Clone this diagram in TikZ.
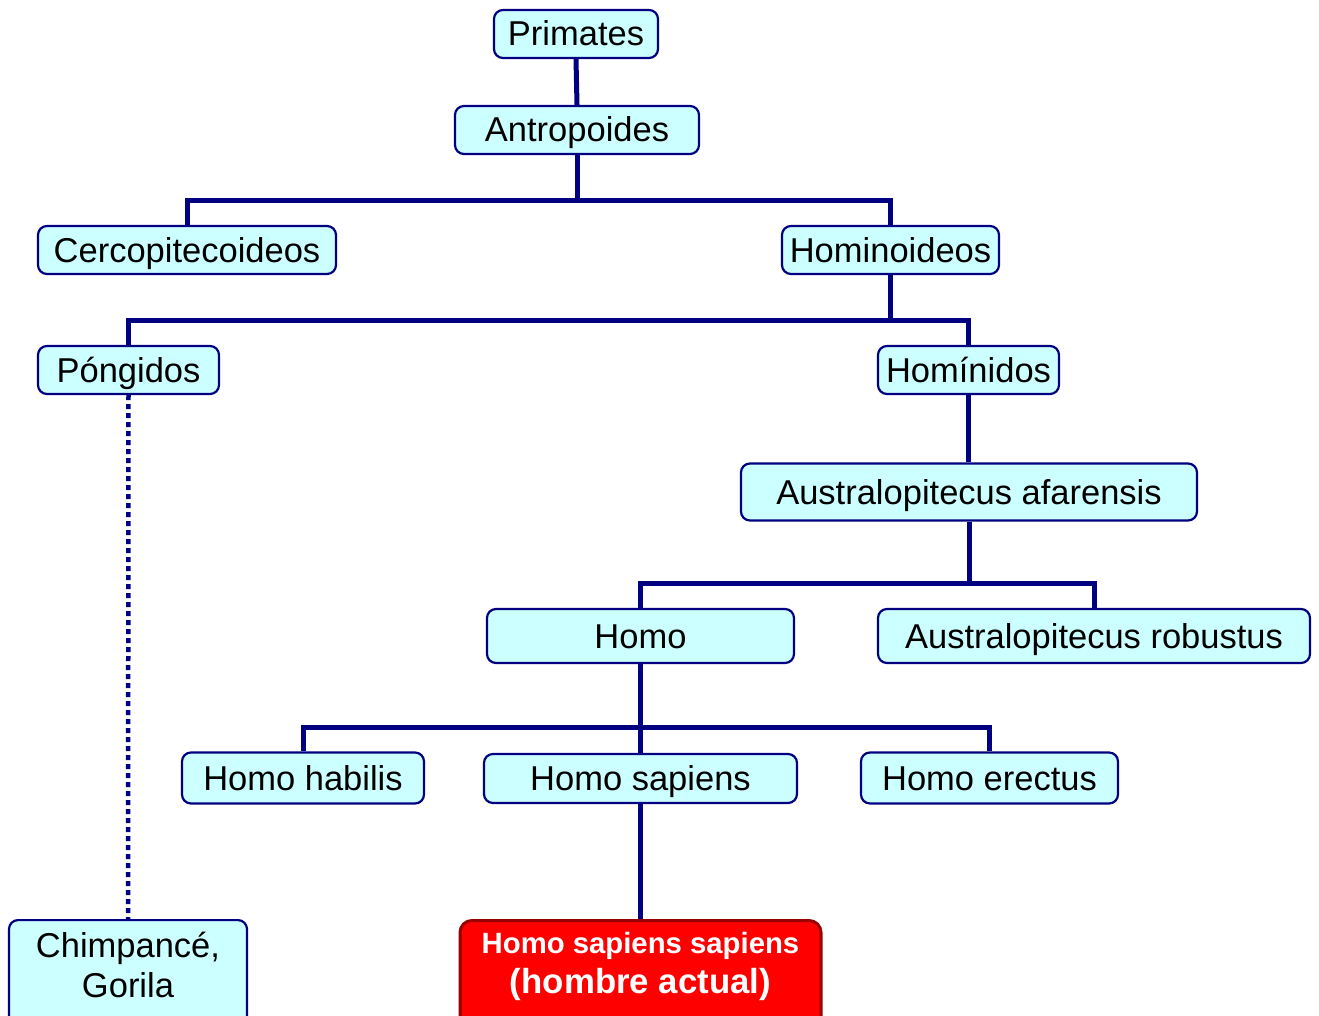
\documentclass[tikz,border=0pt]{standalone}
\usepackage{fontspec}
\setmainfont{Liberation Sans}
\begin{document}
\begin{tikzpicture}[x=1pt,y=-1pt,
  box/.style={draw=navyc, fill=cyanc, line width=2.2pt, rounded corners=9pt, inner sep=0pt,
    font=\fontsize{34.5}{40}\selectfont, text=black, align=center, text height=26pt, text depth=2pt},
  conn/.style={draw=navyc, line width=5pt},
  dotconn/.style={draw=navyc, line width=4.5pt, dash pattern=on 5pt off 4pt},
  redbox/.style={draw=redborder, fill=redfill, line width=3pt, rounded corners=12pt, inner sep=0pt},
  lbl/.style={inner sep=0pt, align=center}
]
\definecolor{navyc}{HTML}{000080}
\definecolor{cyanc}{HTML}{CCFFFF}
\definecolor{redfill}{HTML}{FF0000}
\definecolor{redborder}{HTML}{990000}
\useasboundingbox (0,0) rectangle (1319,1016);

% nodes
\node[box, minimum width=164, minimum height=48] (prim) at (576,34) {Primates};
\node[box, minimum width=244, minimum height=48] (antro) at (577,130) {Antropoides};
\node[box, minimum width=298, minimum height=48] (cerco) at (187,250) {Cercopitecoideos};
\node[box, minimum width=217, minimum height=48] (homoid) at (890.5,250) {Hominoideos};
\node[box, minimum width=181, minimum height=48] (pong) at (128.5,370) {Póngidos};
\node[box, minimum width=181, minimum height=48] (homin) at (968.5,370) {Homínidos};
\node[box, minimum width=456, minimum height=57] (afar) at (969,492) {Australopitecus afarensis};
\node[box, minimum width=307, minimum height=54] (homo) at (640.5,636) {Homo};
\node[box, minimum width=432, minimum height=54] (robus) at (1094,636) {Australopitecus robustus};
\node[box, minimum width=242, minimum height=51] (habil) at (303,778) {Homo habilis};
\node[box, minimum width=313, minimum height=49] (sapi) at (640.5,778.5) {Homo sapiens};
\node[box, minimum width=257, minimum height=51] (erec) at (989.5,778) {Homo erectus};
\node[box, minimum width=238, minimum height=115, anchor=north] (chimp) at (128,919) {};
\node[lbl, font=\fontsize{34.5}{40}\selectfont] (chimptxt) at (128,965) {Chimpancé,\\Gorila};
\node[redbox, minimum width=361, minimum height=115, anchor=north] (actual) at (640.5,919) {};
\node[lbl, text=white, font=\bfseries\fontsize{29.3}{34}\selectfont] (act1) at (640.5,946) {Homo sapiens sapiens};
\node[lbl, text=white, font=\bfseries\fontsize{34.8}{40}\selectfont] (act2) at (640.5,984) {(hombre actual)};

% connectors
\draw[conn] (prim.south) -- (antro.north);
\draw[conn] (antro.south) -- ++(0,48);
\draw[conn] (cerco.north) -- ++(0,-24) -| (homoid.north);
\draw[conn] (homoid.south) -- ++(0,48);
\draw[conn] (pong.north) -- ++(0,-24) -| (homin.north);
\draw[conn] (homin.south) -- (homin.south |- afar.north);
\draw[conn] (afar.south) -- (afar.south |- 0,586);
\draw[conn] (homo.north) -- ++(0,-24) -| (robus.north);
\draw[conn] (homo.south) -- (sapi.north);
\draw[conn] (habil.north) -- ++(0,-24) -| (erec.north);
\draw[conn] (sapi.south) -- (actual.north);
\draw[dotconn] (pong.south) -- (chimp.north);
\end{tikzpicture}
\end{document}
